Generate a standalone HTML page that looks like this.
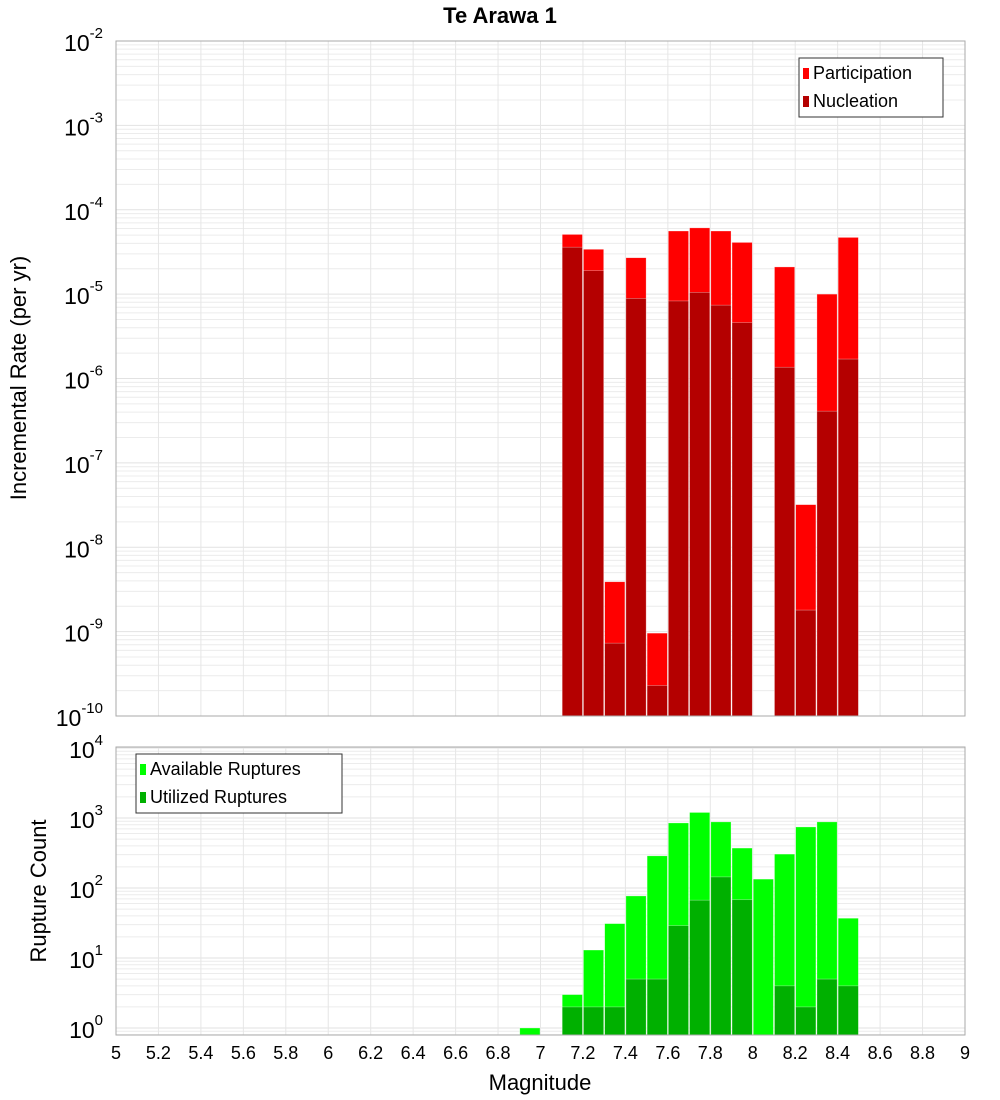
<!DOCTYPE html>
<html><head><meta charset="utf-8"><style>
body{margin:0;background:#fff}
svg{display:block;font-family:"Liberation Sans","DejaVu Sans",sans-serif}
</style></head><body>
<svg id="c" width="1000" height="1100"></svg>
<script>
const mags=[6.95,7.15,7.25,7.35,7.45,7.55,7.65,7.75,7.85,7.95,8.05,8.15,8.25,8.35,8.45];
const participation=[0,5.1e-5,3.4e-5,3.9e-9,2.7e-5,9.6e-10,5.6e-5,6.1e-5,5.6e-5,4.1e-5,0,2.1e-5,3.2e-8,1.0e-5,4.7e-5];
const nucleation=[0,3.6e-5,1.9e-5,7.3e-10,8.9e-6,2.3e-10,8.3e-6,1.05e-5,7.4e-6,4.6e-6,0,1.36e-6,1.8e-9,4.1e-7,1.7e-6];
const available=[1,3,13,31,77,288,850,1200,880,372,134,305,745,880,37];
const utilized=[0,2,2,2,5,5,29,67,144,68,0,4,2,5,4];
const xTicks=[5,5.2,5.4,5.6,5.8,6,6.2,6.4,6.6,6.8,7,7.2,7.4,7.6,7.8,8,8.2,8.4,8.6,8.8,9];
const topDecades=[-2,-3,-4,-5,-6,-7,-8,-9,-10];
const botDecades=[4,3,2,1,0];

const NS="http://www.w3.org/2000/svg";
const svg=document.getElementById('c');
function el(t,a,p){const e=document.createElementNS(NS,t);for(const k in a)e.setAttribute(k,a[k]);(p||svg).appendChild(e);return e;}
const X0=116,X1=965;
const x=m=>X0+(m-5)/4*(X1-X0);
const T={top:41,bot:716,lo:-10,hi:-2};
const B={top:747,bot:1035,lo:-0.1,hi:4.0143};
const yT=v=>T.bot-(Math.log10(v)-T.lo)/(T.hi-T.lo)*(T.bot-T.top);
const yB=v=>B.bot-(Math.log10(v)-B.lo)/(B.hi-B.lo)*(B.bot-B.top);

function panel(P,yf,name){
  const g=el('g',{});
  
  
  el('rect',{x:X0,y:P.top,width:X1-X0,height:P.bot-P.top,fill:'#fff'},g);
  for(let d=Math.floor(P.lo);d<=Math.ceil(P.hi);d++){
    for(let k=1;k<10;k++){const v=k*Math.pow(10,d);const yy=yf(v);
      if(yy<P.top||yy>P.bot)continue;
      const l=el('line',{x1:X0,x2:X1,y1:yy,y2:yy,stroke:k==1?'#e2e2e2':'#ececec','stroke-width':1},g);
      }
  }
  xTicks.forEach(t=>{const l=el('line',{x1:x(t),x2:x(t),y1:P.top,y2:P.bot,stroke:'#e6e6e6'},g);
    });
  return g;
}
const gt=panel(T,yT,'rate');
const gb=panel(B,yB,'count');
const bw=(X1-X0)/40;
function bars(g,vals,yf,P,color,name){
  vals.forEach((v,i)=>{if(!(v>0))return;
    const yy=Math.max(P.top,yf(v));
    const r=el('rect',{x:x(mags[i])-bw/2+0.5,y:yy,width:bw-1,height:P.bot-yy,fill:color,stroke:'#fff','stroke-opacity':0.5,'stroke-width':0.6},g);
    });
}
bars(gt,participation,yT,T,'#ff0000','participation');
bars(gt,nucleation,yT,T,'#b40000','nucleation');
bars(gb,available,yB,B,'#00ff00','available');
bars(gb,utilized,yB,B,'#00b000','utilized');
[T,B].forEach(P=>el('rect',{x:X0,y:P.top,width:X1-X0,height:P.bot-P.top,fill:'none',stroke:'#aaa','stroke-width':1}));

function ylab(d,yy){const t=el('text',{x:103,y:yy+10,'text-anchor':'end','font-size':23,fill:'#000'});
  
  t.textContent='10';const s=el('tspan',{dy:-13,'font-size':15},t);s.textContent=String(d);}
topDecades.forEach(d=>ylab(d,yT(Math.pow(10,d))));
botDecades.forEach(d=>ylab(d,yB(Math.pow(10,d))));
xTicks.forEach(t=>{const e=el('text',{x:x(t),y:1059,'text-anchor':'middle','font-size':18});
  
  e.textContent=String(t);});

function txt(s,a,name){const e=el('text',a);e.textContent=s;return e;}
txt('Te Arawa 1',{x:500,y:23,'text-anchor':'middle','font-size':22,'font-weight':'bold'},'chart-title');
txt('Magnitude',{x:540,y:1090,'text-anchor':'middle','font-size':22},'x-axis-title');
txt('Incremental Rate (per yr)',{x:0,y:0,'text-anchor':'middle','font-size':22,transform:'translate(26,378) rotate(-90)'},'y-axis-title-rate');
txt('Rupture Count',{x:0,y:0,'text-anchor':'middle','font-size':22,transform:'translate(46,891) rotate(-90)'},'y-axis-title-count');

function legend(x0,y0,w,items,name){const g=el('g',{});
  el('rect',{x:x0,y:y0,width:w,height:59,fill:'#fff',stroke:'#333'},g);
  items.forEach((it,i)=>{const r=el('rect',{x:x0+4,y:y0+10+i*28,width:6,height:11,fill:it[1]},g);
    
    const t=el('text',{x:x0+14,y:y0+21+i*28,'font-size':18},g);t.textContent=it[0];
    });}
legend(799,58,144,[['Participation','#ff0000'],['Nucleation','#b40000']],'rate-legend');
legend(136,754,206,[['Available Ruptures','#00ff00'],['Utilized Ruptures','#00b000']],'count-legend');
</script>
</body></html>
